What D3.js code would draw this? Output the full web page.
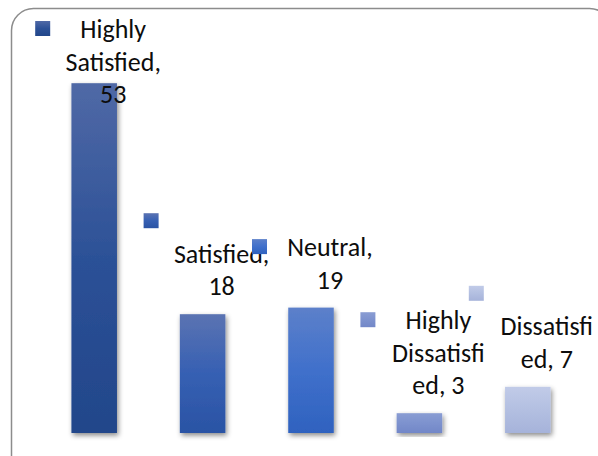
<!DOCTYPE html>
<meta charset="utf-8">
<style>

body {
  margin: 0;
  background: #fff;
}

text {
  font-family: Carlito, Calibri, Lato, sans-serif;
  font-size: 26px;
  fill: #0d0d0d;
}

</style>
<body>
<script src="https://d3js.org/d3.v7.min.js"></script>
<script>

var width = 598,
    height = 456;

var categories = ["Highly Satisfied", "Satisfied", "Neutral", "Highly Dissatisfied", "Dissatisfied"],
    values = [53, 18, 19, 3, 7],
    labelLines = [
      ["Highly", "Satisfied,", "53"],
      ["", "Satisfied,", "18"],
      ["Neutral,", "19"],
      ["Highly", "Dissatisfi", "ed, 3"],
      ["", "Dissatisfi", "ed, 7"]
    ],
    colorStops = [
      ["#5069a6", "#2c5197", "#22468a"],
      ["#5b73b2", "#3660b3", "#2a53a4"],
      ["#5c80ca", "#4070cb", "#2f62bf"],
      ["#8a9dd3", "#7d92ce", "#7287c8"],
      ["#c1cbe8", "#b3bfe1", "#a6b3da"]
    ],
    yMax = 60;

var x = d3.scaleBand()
    .domain(categories)
    .range([40, 582])
    .paddingInner(0.58)
    .paddingOuter(0.29);

var y = d3.scaleLinear()
    .domain([0, yMax])
    .range([433, 37]);

var svg = d3.select("body").append("svg")
    .attr("width", width)
    .attr("height", height);

var defs = svg.append("defs");

var shadow = defs.append("filter")
    .attr("id", "shadow")
    .attr("x", "-30%").attr("y", "-10%")
    .attr("width", "160%").attr("height", "130%");

shadow.append("feDropShadow")
    .attr("dx", 1.5)
    .attr("dy", 2.5)
    .attr("stdDeviation", 2.5)
    .attr("flood-color", "#000")
    .attr("flood-opacity", 0.45);

colorStops.forEach(function(stops, i) {
  var g = defs.append("linearGradient")
      .attr("id", "grad" + i)
      .attr("x1", 0).attr("y1", 0)
      .attr("x2", 0).attr("y2", 1);
  stops.forEach(function(c, j) {
    g.append("stop")
        .attr("offset", j / (stops.length - 1))
        .attr("stop-color", c);
  });
});

// chart frame (runs off the right and bottom edge)
svg.append("rect")
    .attr("x", 11.5)
    .attr("y", 8.5)
    .attr("width", 600)
    .attr("height", 470)
    .attr("rx", 22)
    .attr("ry", 22)
    .attr("fill", "none")
    .attr("stroke", "#8c8c8c")
    .attr("stroke-width", 1.5);

svg.append("g").selectAll("rect")
    .data(values)
  .enter().append("rect")
    .attr("x", function(d, i) { return x(categories[i]); })
    .attr("y", function(d) { return y(d); })
    .attr("width", x.bandwidth())
    .attr("height", function(d) { return y(0) - y(d); })
    .attr("fill", function(d, i) { return "url(#grad" + i + ")"; })
    .attr("filter", "url(#shadow)");

var lineHeight = 32.5;

var labels = svg.append("g").selectAll("g")
    .data(values)
  .enter().append("g")
    .each(function(d, i) {
      var g = d3.select(this),
          lines = labelLines[i],
          cx = x(categories[i]) + x.bandwidth() / 2,
          last = y(d) - 19,
          first = Math.max(38, last - lineHeight * (lines.length - 1));

      g.append("rect")
          .attr("x", cx - 59)
          .attr("y", first - 17)
          .attr("width", 15)
          .attr("height", 15)
          .attr("fill", "url(#grad" + i + ")");

      g.selectAll("text")
          .data(lines)
        .enter().append("text")
          .attr("x", cx + 19)
          .attr("y", function(t, j) { return first + j * lineHeight; })
          .attr("text-anchor", "middle")
          .text(function(t) { return t; });
    });

</script>
